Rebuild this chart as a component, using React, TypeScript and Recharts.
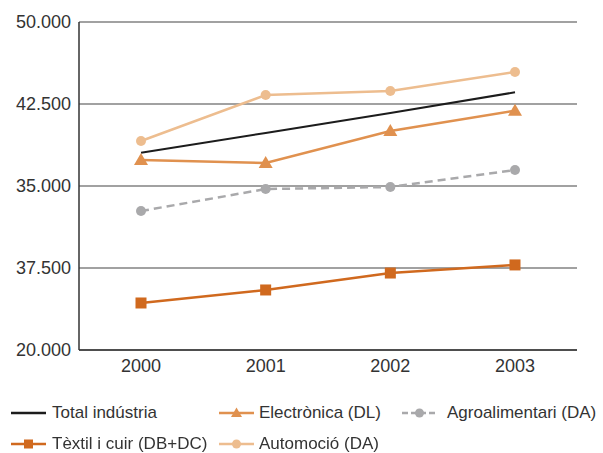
import { LineChart, Line, XAxis, YAxis, CartesianGrid } from 'recharts';

const years = ['2000', '2001', '2002', '2003'];
const totalIndustria = [38050, 39850, 41680, 43570];
const automocio = [39120, 43320, 43690, 45430];
const electronica = [37380, 37100, 40030, 41890];
const agroalimentari = [32710, 34720, 34910, 36460];
const textil = [24300, 25490, 27040, 27780];

// the source labels the 27.500 gridline as "37.500"
const yTicks = [20000, 27500, 35000, 42500, 50000];
const yTickLabels = ['20.000', '37.500', '35.000', '42.500', '50.000'];

const data = years.map((year, i) => ({
  year,
  total: totalIndustria[i],
  auto: automocio[i],
  elec: electronica[i],
  agro: agroalimentari[i],
  textil: textil[i],
}));

const FONT = '"Liberation Sans", Arial, sans-serif';

type Marker = 'none' | 'triangle' | 'circle' | 'square';

const legendItems: { label: string; color: string; marker: Marker; dashed?: boolean; iconX: number; textX: number; y: number }[] = [
  { label: 'Total indústria', color: '#1c1c1c', marker: 'none', iconX: 11, textX: 52, y: 413 },
  { label: 'Electrònica (DL)', color: '#E0914F', marker: 'triangle', iconX: 219, textX: 259, y: 413 },
  { label: 'Agroalimentari (DA)', color: '#A9A9AB', marker: 'circle', dashed: true, iconX: 402, textX: 447, y: 413 },
  { label: 'Tèxtil i cuir (DB+DC)', color: '#D0691E', marker: 'square', iconX: 11, textX: 52, y: 444 },
  { label: 'Automoció (DA)', color: '#EDBD8F', marker: 'circle', iconX: 219, textX: 259, y: 444 },
];

function LegendIcon({ color, marker, dashed }: { color: string; marker: Marker; dashed?: boolean }) {
  return (
    <svg width={35} height={14} style={{ display: 'block' }}>
      <line x1={0} y1={7} x2={35} y2={7} stroke={color} strokeWidth={2.5} strokeDasharray={dashed ? '6 3' : undefined} />
      {marker === 'triangle' && <polygon points="17.5,1.5 23,11 12,11" fill={color} />}
      {marker === 'circle' && <circle cx={17.5} cy={7} r={4.5} fill={color} />}
      {marker === 'square' && <rect x={13} y={2.5} width={9} height={9} fill={color} />}
    </svg>
  );
}

const triangleDot = (color: string) => (props: any) => {
  const { cx, cy, index } = props;
  return <polygon key={index} points={`${cx},${cy - 7} ${cx + 7},${cy + 5} ${cx - 7},${cy + 5}`} fill={color} />;
};

const squareDot = (color: string) => (props: any) => {
  const { cx, cy, index } = props;
  return <rect key={index} x={cx - 5.5} y={cy - 5.5} width={11} height={11} fill={color} />;
};

export default function App() {
  return (
    <div style={{ position: 'fixed', left: 0, top: 0, width: 603, height: 453, background: '#fff', fontFamily: FONT }}>
      <LineChart width={603} height={453} data={data} margin={{ top: 22, right: 26, bottom: 73, left: 0 }}>
        <CartesianGrid vertical={false} stroke="#444" strokeWidth={1.2} />
        <XAxis
          dataKey="year"
          padding={{ left: 62, right: 62 }}
          tickLine={false}
          tickSize={0}
          tickMargin={9}
          stroke="#333"
          strokeWidth={1.5}
          tick={{ fill: '#333', fontSize: 18, fontFamily: FONT }}
        />
        <YAxis
          domain={[20000, 50000]}
          ticks={yTicks}
          width={79}
          tickLine={false}
          tickSize={0}
          tickMargin={8}
          stroke="#333"
          strokeWidth={1.5}
          tickFormatter={(v: number) => yTickLabels[yTicks.indexOf(v)]}
          tick={{ fill: '#333', fontSize: 18, fontFamily: FONT }}
        />
        <Line dataKey="total" stroke="#1c1c1c" strokeWidth={2} dot={false} isAnimationActive={false} />
        <Line dataKey="auto" stroke="#EDBD8F" strokeWidth={2.5} dot={{ r: 5, fill: '#EDBD8F', stroke: 'none' }} isAnimationActive={false} />
        <Line dataKey="elec" stroke="#E0914F" strokeWidth={2.5} dot={triangleDot('#E0914F')} isAnimationActive={false} />
        <Line dataKey="agro" stroke="#A9A9AB" strokeWidth={2.5} strokeDasharray="8 5" dot={{ r: 5, fill: '#A9A9AB', stroke: 'none' }} isAnimationActive={false} />
        <Line dataKey="textil" stroke="#D0691E" strokeWidth={2.5} dot={squareDot('#D0691E')} isAnimationActive={false} />
      </LineChart>
      {legendItems.map((item) => (
        <div key={item.label}>
          <div style={{ position: 'absolute', left: item.iconX, top: item.y - 7 }}>
            <LegendIcon color={item.color} marker={item.marker} dashed={item.dashed} />
          </div>
          <span
            style={{ position: 'absolute', left: item.textX, top: item.y - 11, lineHeight: '22px', fontSize: 17, color: '#333', whiteSpace: 'nowrap' }}
          >
            {item.label}
          </span>
        </div>
      ))}
    </div>
  );
}
